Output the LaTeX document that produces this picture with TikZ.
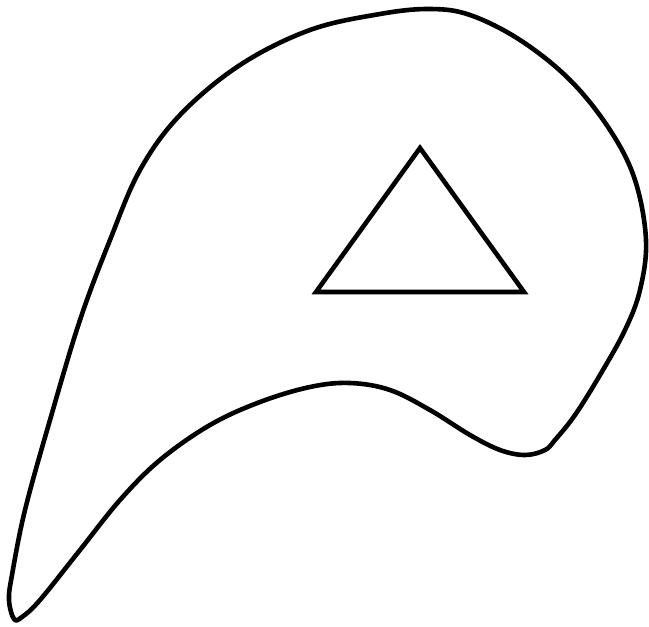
\documentclass[tikz,border=0pt]{standalone}
\begin{document}
\begin{tikzpicture}[x=1pt, y=-1pt, outline/.style={line width=4.6pt, line join=round}]
  \useasboundingbox (0,0) rectangle (649,627);
  % blob
  \draw[outline] plot[smooth cycle, tension=0.6] coordinates {
    (14,619) (9,600) (12,575) (25,510) (50,420) (80,320) (110,240)
    (140,170) (180,115) (240,65) (310,30) (380,14) (430,9) (470,15)
    (520,40) (570,80) (610,130) (635,180) (646,240) (640,290) (625,330)
    (600,375) (575,415) (555,440) (545,450) (525,455) (500,450) (470,435)
    (430,410) (390,390) (350,383) (310,387) (260,402) (210,425) (160,460)
    (120,500) (80,550) (40,600) (22,617)};
  % triangle
  \coordinate (apex) at (420,148);
  \coordinate (left) at (316,292);
  \coordinate (right) at (524,292);
  \draw[outline, line join=miter] (apex) -- (left) -- (right) -- cycle;
\end{tikzpicture}
\end{document}
